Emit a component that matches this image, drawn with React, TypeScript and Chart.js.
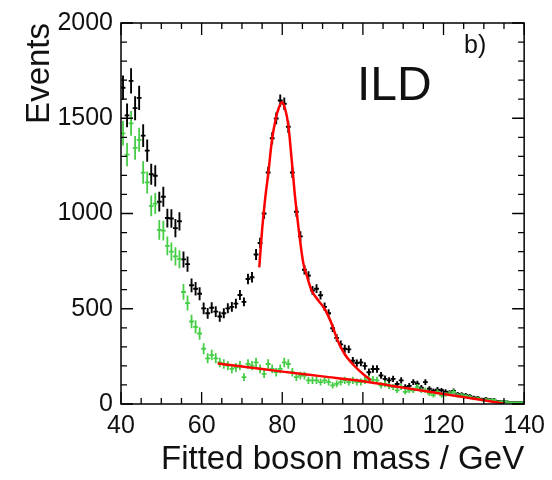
import React, { useEffect, useRef } from 'react';
import { Chart, registerables } from 'chart.js';

Chart.register(...registerables);

// Bin centres (GeV), 1 GeV bins
const binCenters = [
  40.5, 41.5, 42.5, 43.5, 44.5, 45.5, 46.5, 47.5, 48.5, 49.5,
  50.5, 51.5, 52.5, 53.5, 54.5, 55.5, 56.5, 57.5, 58.5, 59.5,
  60.5, 61.5, 62.5, 63.5, 64.5, 65.5, 66.5, 67.5, 68.5, 69.5,
  70.5, 71.5, 72.5, 73.5, 74.5, 75.5, 76.5, 77.5, 78.5, 79.5,
  80.5, 81.5, 82.5, 83.5, 84.5, 85.5, 86.5, 87.5, 88.5, 89.5,
  90.5, 91.5, 92.5, 93.5, 94.5, 95.5, 96.5, 97.5, 98.5, 99.5,
  100.5, 101.5, 102.5, 103.5, 104.5, 105.5, 106.5, 107.5, 108.5, 109.5,
  110.5, 111.5, 112.5, 113.5, 114.5, 115.5, 116.5, 117.5, 118.5, 119.5,
  120.5, 121.5, 122.5, 123.5, 124.5, 125.5, 126.5, 127.5, 128.5, 129.5,
  130.5, 131.5, 132.5, 133.5, 134.5, 135.5, 136.5, 137.5, 138.5, 139.5,
];

// All events (black)
const allEvents = [
  1660, 1515, 1696, 1553, 1607, 1409, 1330, 1206, 1198, 1062,
  1088, 976, 974, 923, 959, 759, 734, 623, 605, 579,
  502, 476, 505, 485, 459, 476, 502, 510, 527, 572,
  536, 656, 665, 785, 845, 1000, 1215, 1395, 1499, 1593,
  1576, 1455, 1215, 1009, 880, 705, 674, 596, 605, 571,
  510, 476, 398, 347, 313, 290, 287, 227, 215, 218,
  200, 167, 184, 184, 150, 132, 124, 132, 105, 124,
  90, 95, 115, 106, 85, 115, 80, 70, 75, 72,
  65, 60, 68, 52, 50, 46, 42, 34, 33, 25,
  28, 24, 23, 15, 14, 13, 10, 9, 9, 9,
];

// Background events (green)
const bgEvents = [
  1421, 1309, 1473, 1344, 1387, 1215, 1163, 1040, 1052, 914,
  910, 830, 800, 775, 760, 588, 530, 433, 405, 370,
  290, 240, 257, 240, 218, 210, 201, 184, 192, 201,
  141, 210, 201, 218, 184, 158, 210, 184, 167, 184,
  218, 210, 167, 141, 149, 149, 124, 124, 124, 115,
  124, 115, 98, 106, 115, 124, 115, 124, 115, 115,
  124, 132, 128, 124, 98, 106, 95, 89, 72, 89,
  64, 72, 72, 89, 72, 72, 55, 46, 64, 46,
  50, 55, 64, 46, 46, 42, 38, 29, 29, 21,
  24, 21, 21, 12, 12, 12, 8, 8, 8, 8,
];

// Fit to the boson peak (red)
const peakFitMass = [74.3, 75.0, 75.8, 76.6, 77.4, 78.4, 79.2, 79.9, 80.7, 81.5, 82.3, 83.1, 84.0, 85.2, 86.0, 87.2, 88.9, 90.5, 92.2, 93.8, 95.5, 97.1, 99.1, 100.8, 102.0];
const peakFitValue = [717, 914, 1086, 1223, 1378, 1499, 1558, 1584, 1550, 1464, 1292, 1103, 931, 742, 680, 600, 545, 500, 424, 330, 261, 218, 175, 144, 124];

// Fit to the background (red)
const bgFitMass = [64, 70, 80, 90, 100, 110, 120, 130, 135];
const bgFitValue = [212, 197, 170, 145, 120, 86, 52, 20, 2];

const xTicks = [40, 60, 80, 100, 120, 140];
const yTicks = [0, 500, 1000, 1500, 2000];

const FONT = "'Liberation Sans', Arial, Helvetica, sans-serif";
const TEXT_COLOR = '#111111';
const GREEN = 'rgb(70,205,70)';

const errBlack = (i: number) => Math.sqrt(2.9 * bgEvents[i] + 0.35 * Math.max(0, allEvents[i] - bgEvents[i]));
const errGreen = (i: number) => Math.sqrt(2.9 * bgEvents[i]);

const errorBarPlugin = {
  id: 'errorBars',
  beforeDatasetsDraw(chart: any) {
    const { ctx, chartArea, scales } = chart;
    const xs = scales.x;
    const ys = scales.y;
    ctx.save();
    ctx.beginPath();
    ctx.rect(chartArea.left, chartArea.top, chartArea.right - chartArea.left, chartArea.bottom - chartArea.top);
    ctx.clip();
    chart.data.datasets.forEach((ds: any) => {
      if (!ds.errorKind) return;
      ctx.strokeStyle = ds.errorColor;
      ctx.lineWidth = ds.errorKind === 'black' ? 1.9 : 1.8;
      ds.data.forEach((p: any, i: number) => {
        const e = ds.errorKind === 'black' ? errBlack(i) : errGreen(i);
        const px = xs.getPixelForValue(p.x);
        const py = ys.getPixelForValue(p.y);
        const yTop = ys.getPixelForValue(p.y + e);
        const yBot = ys.getPixelForValue(Math.max(0, p.y - e));
        const xL = xs.getPixelForValue(p.x - 0.6);
        const xR = xs.getPixelForValue(p.x + 0.6);
        ctx.beginPath();
        ctx.moveTo(px, yTop);
        ctx.lineTo(px, yBot);
        ctx.moveTo(xL, py);
        ctx.lineTo(xR, py);
        ctx.stroke();
      });
    });
    ctx.restore();
  },
};

const framePlugin = {
  id: 'frame',
  afterDraw(chart: any) {
    const { ctx, chartArea, scales } = chart;
    const { left, right, top, bottom } = chartArea;
    const xs = scales.x;
    const ys = scales.y;
    ctx.save();
    ctx.strokeStyle = '#000';
    ctx.lineWidth = 1.5;
    ctx.strokeRect(left, top, right - left, bottom - top);
    ctx.lineWidth = 1.3;
    ctx.beginPath();
    for (let v = 0; v <= 2000; v += 100) {
      const y = ys.getPixelForValue(v);
      const len = v % 500 === 0 ? 12 : 6;
      ctx.moveTo(left, y); ctx.lineTo(left + len, y);
      ctx.moveTo(right, y); ctx.lineTo(right - len, y);
    }
    for (let m = 40; m <= 140; m += 5) {
      const x = xs.getPixelForValue(m);
      const len = m % 20 === 0 ? 12 : 6;
      ctx.moveTo(x, bottom); ctx.lineTo(x, bottom - len);
      ctx.moveTo(x, top); ctx.lineTo(x, top + len);
    }
    ctx.stroke();

    ctx.fillStyle = TEXT_COLOR;
    ctx.textAlign = 'left';
    ctx.textBaseline = 'alphabetic';
    ctx.font = `48px ${FONT}`;
    ctx.fillText('ILD', 357, 100);
    ctx.font = `25px ${FONT}`;
    ctx.fillText('b)', 464, 53);
    ctx.restore();
  },
};

export default function App() {
  const canvasRef = useRef<HTMLCanvasElement | null>(null);

  useEffect(() => {
    const canvas = canvasRef.current;
    if (!canvas) return;
    const chart = new Chart(canvas, {
      type: 'scatter',
      data: {
        datasets: [
          {
            label: 'all',
            data: binCenters.map((x, i) => ({ x, y: allEvents[i] })),
            pointRadius: 0,
            showLine: false,
            errorKind: 'black',
            errorColor: '#000000',
          } as any,
          {
            label: 'background',
            data: binCenters.map((x, i) => ({ x, y: bgEvents[i] })),
            pointRadius: 0,
            showLine: false,
            errorKind: 'green',
            errorColor: GREEN,
          } as any,
          {
            type: 'line',
            label: 'peak fit',
            data: peakFitMass.map((x, i) => ({ x, y: peakFitValue[i] })),
            borderColor: '#ff0000',
            borderWidth: 2.5,
            pointRadius: 0,
            showLine: true,
            cubicInterpolationMode: 'monotone',
          } as any,
          {
            type: 'line',
            label: 'background fit',
            data: bgFitMass.map((x, i) => ({ x, y: bgFitValue[i] })),
            borderColor: '#ff0000',
            borderWidth: 2.5,
            pointRadius: 0,
            showLine: true,
            cubicInterpolationMode: 'monotone',
          } as any,
        ],
      },
      options: {
        responsive: false,
        animation: false,
        events: [],
        layout: { padding: { top: 16, right: 24, left: 0, bottom: 0 } },
        plugins: {
          legend: { display: false },
          tooltip: { enabled: false },
          title: { display: false },
        },
        scales: {
          x: {
            type: 'linear',
            min: 40,
            max: 140,
            grid: { display: false, drawTicks: false },
            border: { display: false },
            afterFit: (s: any) => { s.height = 76; },
            afterBuildTicks: (s: any) => { s.ticks = xTicks.map((v) => ({ value: v })); },
            ticks: {
              color: TEXT_COLOR,
              font: { family: FONT, size: 25 },
              padding: 7,
              maxRotation: 0,
              autoSkip: false,
              callback: (v: any) => String(v),
            },
            title: {
              display: true,
              text: 'Fitted boson mass / GeV',
              align: 'end',
              color: TEXT_COLOR,
              font: { family: FONT, size: 33 },
              padding: { top: 0, bottom: 0 },
            },
          },
          y: {
            type: 'linear',
            min: 0,
            max: 2000,
            grid: { display: false, drawTicks: false },
            border: { display: false },
            afterFit: (s: any) => { s.width = 121; },
            afterBuildTicks: (s: any) => { s.ticks = yTicks.map((v) => ({ value: v })); },
            ticks: {
              color: TEXT_COLOR,
              font: { family: FONT, size: 25 },
              padding: 8,
              autoSkip: false,
              callback: (v: any) => String(v),
            },
            title: {
              display: true,
              text: 'Events',
              align: 'end',
              color: TEXT_COLOR,
              font: { family: FONT, size: 33 },
              padding: { top: 20, bottom: 0 },
            },
          },
        },
      } as any,
      plugins: [errorBarPlugin, framePlugin],
    });
    return () => chart.destroy();
  }, []);

  return (
    <div style={{ position: 'absolute', left: 0, top: 0, width: 552, height: 480, background: '#fff' }}>
      <canvas ref={canvasRef} width={552} height={480} />
    </div>
  );
}
